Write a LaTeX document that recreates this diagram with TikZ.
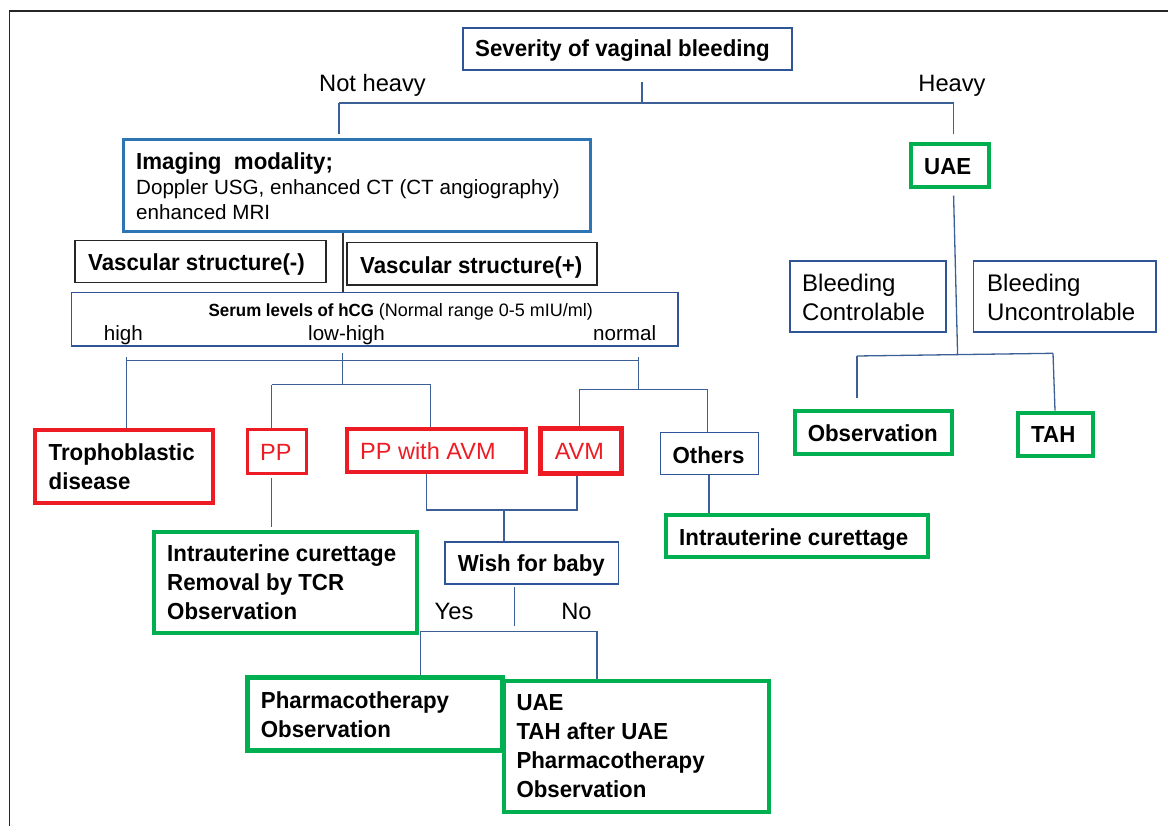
\documentclass[tikz,border=0pt]{standalone}
\usepackage{fontspec}
\setmainfont{Liberation Sans}[BoldFeatures={FakeStretch=0.96}]
\definecolor{cblue}{RGB}{47,85,151}
\definecolor{cimg}{RGB}{46,117,182}
\definecolor{cred}{RGB}{237,28,36}
\definecolor{cgreen}{RGB}{0,176,80}
\definecolor{cline}{RGB}{60,95,150}
\begin{document}
\begin{tikzpicture}[x=1pt,y=-1pt,
  box/.style={draw, inner sep=0pt, line join=miter},
  bluebox/.style={box, draw=cblue, line width=1.5pt},
  imgbox/.style={box, draw=cimg, line width=3pt},
  blackbox/.style={box, draw=black!85, line width=1.6pt},
  redbox/.style={box, draw=cred, line width=4pt},
  greenbox/.style={box, draw=cgreen, line width=4pt},
  conn/.style={draw=cline, line width=1.3pt},
  tb/.style={anchor=base west, inner sep=0pt, font=\fontsize{23.2pt}{29pt}\selectfont\bfseries},
  tbm/.style={anchor=west, inner sep=0pt, align=left, font=\fontsize{23.2pt}{29pt}\selectfont\bfseries},
  trm/.style={anchor=west, inner sep=0pt, align=left, font=\fontsize{24pt}{28.5pt}\selectfont},
  tsm/.style={anchor=base west, inner sep=0pt, font=\fontsize{20.6pt}{25pt}\selectfont},
  tred/.style={anchor=base west, inner sep=0pt, text=cred, font=\fontsize{23.5pt}{28pt}\selectfont},
  lab/.style={anchor=base, inner sep=0pt, font=\fontsize{23.7pt}{28pt}\selectfont}
]
\useasboundingbox (0,0) rectangle (1168,826);
\draw[black!85, line width=1.8pt] (1168,10.7) -- (9.5,10.7) -- (9.5,826);

% ---------- boxes ----------
\node[bluebox, minimum width=329pt, minimum height=42pt] (sev) at (627.5,49) {};
\node[imgbox, minimum width=467pt, minimum height=92pt] (img) at (356.5,186) {};
\node[blackbox, minimum width=251pt, minimum height=42pt] (vm) at (200.5,261.7) {};
\node[blackbox, minimum width=250pt, minimum height=42.3pt] (vp) at (472,263.8) {};
\node[bluebox, minimum width=606.6pt, minimum height=53.3pt] (serum) at (374.7,319.3) {};
\node[redbox, minimum width=178.3pt, minimum height=73pt] (tropho) at (123.9,466.5) {};
\node[redbox, line width=3pt, minimum width=59pt, minimum height=44pt] (pp) at (276.5,451.7) {};
\node[redbox, minimum width=179pt, minimum height=43.6pt] (ppavm) at (436,450.5) {};
\node[redbox, line width=5pt, minimum width=80.6pt, minimum height=44.6pt] (avm) at (581.1,451) {};
\node[bluebox, minimum width=98pt, minimum height=41.6pt] (others) at (709.7,453.5) {};
\node[greenbox, minimum width=262.8pt, minimum height=101.6pt] (gpp) at (285.4,582.5) {};
\node[bluebox, minimum width=173.4pt, minimum height=42pt] (wish) at (531.7,563) {};
\node[greenbox, line width=5pt, minimum width=255.6pt, minimum height=73pt] (pharma) at (374.8,714.2) {};
\node[greenbox, minimum width=265.4pt, minimum height=130.7pt] (uaelist) at (636.7,746.3) {};
\node[greenbox, minimum width=262.8pt, minimum height=41.7pt] (icur) at (797,535.8) {};
\node[greenbox, minimum width=77.9pt, minimum height=43.3pt] (uae) at (949.8,165.6) {};
\node[bluebox, minimum width=156pt, minimum height=71.3pt] (bc) at (868,296.6) {};
\node[bluebox, minimum width=182.4pt, minimum height=71pt] (bu) at (1064.8,296.5) {};
\node[greenbox, minimum width=157.2pt, minimum height=43.3pt] (obs) at (873.2,432.4) {};
\node[greenbox, minimum width=75.7pt, minimum height=43.3pt] (tah) at (1055.6,434.3) {};

% ---------- texts ----------
\node[tb] (tsev) at (475,56.7) {Severity of vaginal bleeding};
\node[anchor=west, inner sep=0pt, align=left, font=\fontsize{20.6pt}{25pt}\selectfont] (timg) at (136,186)
  {{\fontsize{23.2pt}{25pt}\selectfont\bfseries Imaging\ \ modality;}\\
   Doppler USG, enhanced CT (CT angiography)\\
   enhanced MRI};
\node[tb] (tvm) at (88,270.7) {Vascular structure(-)};
\node[tb] (tvp) at (360,273.3) {Vascular structure(+)};
\node[anchor=base west, inner sep=0pt, font=\fontsize{18pt}{20pt}\selectfont] (tserum) at (208.5,316.7)
  {{\fontsize{17.6pt}{20pt}\selectfont\bfseries Serum levels of hCG} (Normal range 0-5 mIU/ml)};
\node[tsm] (thigh) at (103.6,340.7) {high};
\node[tsm] (tlow) at (308,340.7) {low-high};
\node[tsm] (tnorm) at (593,340.7) {normal};
\node[tbm] (ttropho) at (48.5,466.5) {Trophoblastic\\disease};
\node[tred] (tpp) at (260,460) {PP};
\node[tred] (tppavm) at (360,459.3) {PP with AVM};
\node[tred] (tavm) at (554.6,459.3) {AVM};
\node[tb] (tothers) at (672.4,463.3) {Others};
\node[tbm] (tgpp) at (167,582.5) {Intrauterine curettage\\Removal by TCR\\Observation};
\node[tb] (twish) at (457.6,571.7) {Wish for baby};
\node[tbm] (tpharma) at (260.7,715) {Pharmacotherapy\\Observation};
\node[tbm] (tuaelist) at (516.3,746.5) {UAE\\TAH after UAE\\Pharmacotherapy\\Observation};
\node[tb] (ticur) at (679,545) {Intrauterine curettage};
\node[tb] (tuae) at (924,174.3) {UAE};
\node[trm] (tbc) at (802,297.5) {Bleeding\\Controlable};
\node[trm] (tbu) at (987,297.5) {Bleeding\\Uncontrolable};
\node[tb] (tobs) at (807.6,441.7) {Observation};
\node[tb] (ttah) at (1031,442.7) {TAH};

\node[lab] (lnh) at (372.5,91.7) {Not heavy};
\node[lab] (lh) at (952,91.7) {Heavy};
\node[lab] (lyes) at (454,619) {Yes};
\node[lab] (lno) at (576.5,619) {No};

% ---------- connectors ----------
\coordinate (sevstem) at (642,82);
\coordinate (jtop) at (642,103);
\coordinate (jnh) at (339,103);
\coordinate (jh) at (953.6,103);
\coordinate (imgin) at (339,134);
\coordinate (uaein) at (953.6,134);
\draw[conn] (sevstem) -- (jtop);
\draw[conn] (jnh) -- (jh);
\draw[conn] (jnh) -- (imgin);
\draw[conn] (jh) -- (uaein);

\draw[black!80, line width=1.3pt] (img.south -| 343,0) -- (serum.north -| 343,0);

\coordinate (sstem) at (342.4,352.7);
\coordinate (jmid) at (342.4,384.7);
\coordinate (bl) at (126.5,360.7);
\coordinate (br) at (638.8,360.7);
\coordinate (bltick) at (126.5,357);
\coordinate (brtick) at (638.8,357);
\draw[conn] (sstem) -- (jmid);
\draw[conn] (bl) -- (br);
\draw[conn] (bltick) -- (bltick |- tropho.north);
\coordinate (jppl) at (271.8,384.7);
\coordinate (jppr) at (430.6,384.7);
\draw[conn] (jppl) -- (jppr);
\draw[conn] (jppl) -- (jppl |- pp.north);
\draw[conn] (jppr) -- (jppr |- ppavm.north);
\coordinate (jright) at (638.8,389.3);
\draw[conn] (brtick) -- (jright);
\coordinate (javl) at (579.6,389.3);
\coordinate (javr) at (707.6,389.3);
\draw[conn] (javl) -- (javr);
\draw[conn] (javl) -- (javl |- avm.north);
\draw[conn] (javr) -- (javr |- others.north);

\coordinate (ppout) at (271.4,478.3);
\coordinate (gppin) at (271.4,526.7);
\draw[conn] (ppout) -- (gppin);

\coordinate (mvl) at (426.5,510);
\coordinate (mvr) at (577,510);
\coordinate (mvc) at (504,510);
\draw[conn] (ppavm.south -| mvl) -- (mvl) -- (mvr) -- (avm.south -| mvr);
\draw[conn] (mvc) -- (mvc |- wish.north);

\coordinate (wout) at (514.3,587.3);
\coordinate (wend) at (514.3,626);
\draw[conn] (wout) -- (wend);
\coordinate (yl) at (420.4,631.7);
\coordinate (yr) at (597,631.7);
\draw[conn] (yl |- pharma.north) -- (yl) -- (yr) -- (yr |- uaelist.north);

\coordinate (oout) at (709,475);
\draw[conn] (oout) -- (icur.north -| oout);

\coordinate (uout) at (953.6,195.7);
\coordinate (ujoin) at (957.6,355);
\draw[conn] (uout) -- (ujoin);
\coordinate (ol) at (857,356);
\coordinate (or) at (1053,353.3);
\coordinate (olend) at (857,398.3);
\draw[conn] (ol) -- (or);
\draw[conn] (ol) -- (olend);
\draw[conn] (or) -- (tah.north -| 1055,0);
\end{tikzpicture}
\end{document}
